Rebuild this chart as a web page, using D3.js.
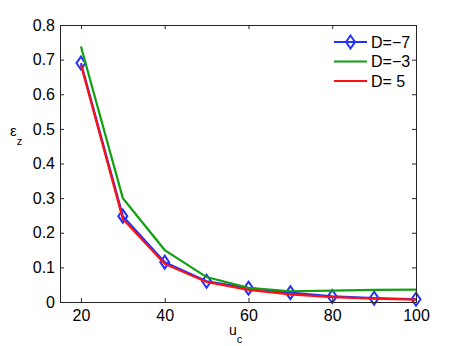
<!DOCTYPE html>
<html>
<head>
<meta charset="utf-8">
<script src="https://cdn.jsdelivr.net/npm/d3@7"></script>
<style>
  body { margin: 0; background: #fff; }
  text { font-family: "Liberation Sans", Arial, sans-serif; fill: #000; }
</style>
</head>
<body>
<div id="chart"></div>
<script>
const uc = [20, 30, 40, 50, 60, 70, 80, 90, 100];
const dMinus7 = [0.69, 0.248, 0.115, 0.06, 0.04, 0.027, 0.016, 0.011, 0.008];
const dMinus3 = [0.738, 0.30, 0.15, 0.072, 0.041, 0.031, 0.033, 0.035, 0.036];
const dPlus5 = [0.685, 0.24, 0.11, 0.058, 0.035, 0.022, 0.014, 0.01, 0.007];
const xTicks = [20, 40, 60, 80, 100];
const yTicks = [0, 0.1, 0.2, 0.3, 0.4, 0.5, 0.6, 0.7, 0.8];

const series = [
  { name: "D=\u22127", values: dMinus7, color: "#2233ff", marker: true },
  { name: "D=\u22123", values: dMinus3, color: "#11a011", marker: false },
  { name: "D= 5", values: dPlus5, color: "#ff1111", marker: false }
];

const width = 460, height = 346;
const margin = { top: 25, right: 44, bottom: 44, left: 60 };
const diamond = "M0,-6.5L4.5,0L0,6.5L-4.5,0Z";

const svg = d3.select("#chart").append("svg")
  .attr("width", width).attr("height", height);

const x = d3.scaleLinear().domain([15, 100]).range([margin.left, width - margin.right]);
const y = d3.scaleLinear().domain([0, 0.8]).range([height - margin.bottom, margin.top]);

// lines
const line = d3.line().x((d, i) => x(uc[i])).y(d => y(d));

series.forEach(s => {
  svg.append("path")
    .datum(s.values)
    .attr("d", line)
    .attr("fill", "none")
    .attr("stroke", s.color)
    .attr("stroke-width", 2.2);
  if (s.marker) {
    svg.selectAll(null)
      .data(s.values)
      .join("path")
      .attr("d", diamond)
      .attr("transform", (d, i) => `translate(${x(uc[i])},${y(d)})`)
      .attr("fill", "none")
      .attr("stroke", s.color)
      .attr("stroke-width", 2);
  }
});

// axes box with inward ticks
const axisStyle = g => {
  g.select(".domain").attr("stroke", "#262626");
  g.selectAll(".tick line").attr("stroke", "#262626");
  g.selectAll(".tick text").style("font-size", "16px").style("font-family", "Liberation Sans, Arial, sans-serif");
};

svg.append("g")
  .attr("transform", `translate(0,${height - margin.bottom})`)
  .call(d3.axisBottom(x).tickValues(xTicks).tickSize(-4).tickSizeOuter(0).tickPadding(8))
  .call(axisStyle);

svg.append("g")
  .attr("transform", `translate(${margin.left},0)`)
  .call(d3.axisLeft(y).tickValues(yTicks).tickSize(-4).tickSizeOuter(0).tickPadding(5)
    .tickFormat(d => d === 0 ? "0" : d3.format(".1f")(d)))
  .call(axisStyle);

svg.append("g")
  .attr("transform", `translate(0,${margin.top})`)
  .call(d3.axisTop(x).tickValues(xTicks).tickSize(-4).tickSizeOuter(0).tickFormat(""))
  .call(axisStyle);

svg.append("g")
  .attr("transform", `translate(${width - margin.right},0)`)
  .call(d3.axisRight(y).tickValues(yTicks).tickSize(-4).tickSizeOuter(0).tickFormat(""))
  .call(axisStyle);

// axis labels
const yl = svg.append("text").attr("x", 10).attr("y", 136).style("font-size", "15px");
yl.append("tspan").text("\u03b5");
yl.append("tspan").attr("dy", 9).style("font-size", "11px").text("z");

const xl = svg.append("text").attr("x", 229).attr("y", 335).style("font-size", "14px");
xl.append("tspan").text("u");
xl.append("tspan").attr("dy", 8).style("font-size", "11px").text("c");

// legend
const legend = svg.append("g");
series.forEach((s, i) => {
  const ly = 42 + i * 19.5;
  legend.append("line")
    .attr("x1", 334).attr("x2", 367).attr("y1", ly).attr("y2", ly)
    .attr("stroke", s.color).attr("stroke-width", 2.2);
  if (s.marker) {
    legend.append("path")
      .attr("d", diamond)
      .attr("transform", `translate(350.5,${ly})`)
      .attr("fill", "none").attr("stroke", s.color).attr("stroke-width", 2);
  }
  legend.append("text")
    .attr("x", 371).attr("y", ly + 5.5)
    .style("font-size", "16px")
    .text(s.name);
});
</script>
</body>
</html>
